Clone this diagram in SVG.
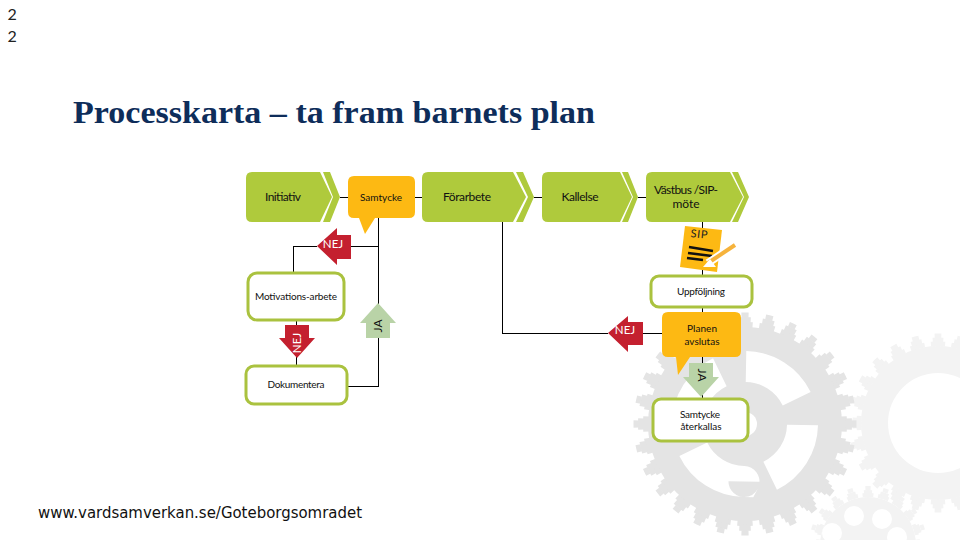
<svg xmlns="http://www.w3.org/2000/svg" width="960" height="540" viewBox="0 0 960 540">
<style>
.lbl{font-family:"Lato","Noto Sans",sans-serif;fill:#111;text-anchor:middle}
.wt{font-family:"Lato","Noto Sans",sans-serif;fill:#fff;text-anchor:middle;font-size:11.5px}
.chev{fill:#afca3c}
.box{fill:#fff;stroke:#aac23f;stroke-width:3}
.bub{fill:#fdb913}
.red{fill:#c4202f}
.ja{fill:#b9d3a7}
.ln{stroke:#000;stroke-width:1;fill:none;shape-rendering:crispEdges}
.g1{fill:#e4e4e4}
.g1s{fill:none;stroke:#e4e4e4}
.g2{fill:#f3f3f3}
.g2s{fill:none;stroke:#f3f3f3}
</style>
<rect width="960" height="540" fill="#fff"/>
<g id="gears">
<circle class="g2s" cx="938" cy="423" r="79" stroke-width="5" pathLength="2400" stroke-dasharray="70 30" stroke-dashoffset="35"/>
<circle class="g2s" cx="938" cy="423" r="83" stroke-width="5" pathLength="2400" stroke-dasharray="50 50" stroke-dashoffset="25"/>
<circle class="g2s" cx="938" cy="423" r="87" stroke-width="5" pathLength="2400" stroke-dasharray="30 70" stroke-dashoffset="15"/>
<circle class="g2" cx="938" cy="423" r="77"/>
<circle cx="938" cy="423" r="50" fill="#fff"/>
<circle class="g2s" cx="868" cy="545" r="50" stroke-width="4" pathLength="2000" stroke-dasharray="70 30" stroke-dashoffset="35"/>
<circle class="g2s" cx="868" cy="545" r="53" stroke-width="4" pathLength="2000" stroke-dasharray="50 50" stroke-dashoffset="25"/>
<circle class="g2s" cx="868" cy="545" r="57" stroke-width="4" pathLength="2000" stroke-dasharray="30 70" stroke-dashoffset="15"/>
<circle class="g2" cx="868" cy="545" r="48"/>
<circle cx="854" cy="516" r="10" fill="#fff"/>
<circle cx="882" cy="519" r="10" fill="#fff"/>
<circle cx="832" cy="533" r="10" fill="#fff"/>
<circle cx="897" cy="537" r="10" fill="#fff"/>
<circle class="g1s" cx="745" cy="424" r="99" stroke-width="6" pathLength="2800" stroke-dasharray="70 30" stroke-dashoffset="35"/>
<circle class="g1s" cx="745" cy="424" r="104" stroke-width="6" pathLength="2800" stroke-dasharray="50 50" stroke-dashoffset="25"/>
<circle class="g1s" cx="745" cy="424" r="109" stroke-width="5" pathLength="2800" stroke-dasharray="30 70" stroke-dashoffset="15"/>
<circle class="g1" cx="745" cy="424" r="97"/>
<circle cx="745" cy="424" r="57.5" fill="none" stroke="#fff" stroke-width="31" pathLength="360" stroke-dasharray="63 27" transform="rotate(-89 745 424)"/>
<circle cx="745" cy="424" r="12" fill="#fff"/>
</g>
<g id="connectors" class="ln">
<path d="M340 197H348M415 197H422M534 197H542M638 197H646"/>
<path d="M378 218V386H347M378 246H351M317 246H293V273M296 320V366"/>
<path d="M502 222V333H608M643 333H662M702 222V399"/>
</g>
<text x="7.5" y="20" font-family="Lato,sans-serif" font-size="16" fill="#222">2</text>
<text x="7.5" y="42" font-family="Lato,sans-serif" font-size="16" fill="#222">2</text>
<text id="title" x="73" y="123" font-family="Liberation Serif,serif" font-weight="bold" font-size="32" fill="#0e2d5a" textLength="522" lengthAdjust="spacingAndGlyphs">Processkarta – ta fram barnets plan</text>
<g id="initiativ">
<path class="chev" d="M252 172H320L332 197L320 222H252Q246 222 246 216V178Q246 172 252 172Z"/>
<path class="chev" d="M323 172H330L340 197L330 222H323L333 197Z"/>
<text class="lbl" x="283" y="201" font-size="12" textLength="36">Initiativ</text>
</g>
<g id="samtycke">
<path class="bub" d="M354 176H409Q415 176 415 182V212Q415 218 409 218H375L365 234L359 218H354Q348 218 348 212V182Q348 176 354 176Z"/>
<text class="lbl" x="381" y="201" font-size="10" textLength="42">Samtycke</text>
</g>
<g id="forarbete">
<path class="chev" d="M428 172H513L526 197L513 222H428Q422 222 422 216V178Q422 172 428 172Z"/>
<path class="chev" d="M516 172H523L534 197L523 222H516L528 197Z"/>
<text class="lbl" x="467" y="201" font-size="12" textLength="48">Förarbete</text>
</g>
<g id="kallelse">
<path class="chev" d="M548 172H620L632 197L620 222H548Q542 222 542 216V178Q542 172 548 172Z"/>
<path class="chev" d="M622 172H628L638 197L628 222H622L633 197Z"/>
<text class="lbl" x="580" y="201" font-size="12" textLength="37">Kallelse</text>
</g>
<g id="vastbus">
<path class="chev" d="M652 172H730L743 197L730 222H652Q646 222 646 216V178Q646 172 652 172Z"/>
<path class="chev" d="M732 172H738L749 197L738 222H732L744 197Z"/>
<text class="lbl" x="686" y="194" font-size="12" textLength="64">Västbus /SIP-</text>
<text class="lbl" x="686" y="208" font-size="12">möte</text>
</g>
<g id="nej-1">
<path class="red" d="M317 246L337 228V235H351V259H337V265Z"/>
<text class="wt" x="333" y="248">NEJ</text>
</g>
<g id="sip">
<path class="bub" d="M685 226L722 230L717 272L680 267Z"/>
<text x="699" y="238" font-family="Lato,sans-serif" font-size="11" fill="#222" text-anchor="middle" textLength="17" transform="rotate(6 700 234)">SIP</text>
<path d="M689 247L713 251M688 253L712 256M687 258L703 260" stroke="#111" stroke-width="2.4" fill="none"/>
<path d="M735 245L708 263" stroke="#fff" stroke-width="8" fill="none"/>
<path d="M735 245L708 263" stroke="#f6b33c" stroke-width="4" fill="none"/>
<path d="M703 267L710 259L716 267Z" fill="#fff"/>
</g>
<g id="motivationsarbete">
<rect class="box" x="248" y="273" width="96" height="47" rx="9"/>
<text class="lbl" x="296" y="300" font-size="10" textLength="82">Motivations-arbete</text>
</g>
<g id="uppfoljning">
<rect class="box" x="651" y="276" width="101" height="31" rx="8"/>
<text class="lbl" x="701" y="295" font-size="10" textLength="48">Uppföljning</text>
</g>
<g id="nej-2">
<path class="red" d="M285 325H309V338H315L297 358L279 338H285Z"/>
<text class="wt" transform="translate(301 343) rotate(-90)">NEJ</text>
</g>
<g id="ja-1">
<path class="ja" d="M378 303L396 323H390V338H366V323H360Z"/>
<text transform="translate(382 326) rotate(-90)" class="lbl" font-size="12">JA</text>
</g>
<g id="dokumentera">
<rect class="box" x="246" y="366" width="101" height="38" rx="8"/>
<text class="lbl" x="296" y="388" font-size="10" textLength="57">Dokumentera</text>
</g>
<g id="nej-3">
<path class="red" d="M608 333L628 316V322H643V345H628V352Z"/>
<text class="wt" x="625" y="334">NEJ</text>
</g>
<g id="ja-2">
<path class="ja" d="M689 363H713V377H719L701 397L683 377H689Z"/>
<text transform="translate(698 375) rotate(90)" class="lbl" font-size="12">JA</text>
</g>
<g id="planen">
<path class="bub" d="M668 312H735Q741 312 741 318V351Q741 357 735 357H690L678 375L676 357H668Q662 357 662 351V318Q662 312 668 312Z"/>
<text class="lbl" x="702" y="332" font-size="10" textLength="30">Planen</text>
<text class="lbl" x="702" y="345" font-size="10" textLength="35">avslutas</text>
</g>
<g id="samtycke-aterkallas">
<rect class="box" x="653" y="399" width="95" height="42" rx="8"/>
<text class="lbl" x="700" y="418" font-size="10" textLength="40">Samtycke</text>
<text class="lbl" x="701" y="430" font-size="10" textLength="41">återkallas</text>
</g>
<text id="url" x="38" y="518" font-family="DejaVu Sans,sans-serif" font-size="15" fill="#111" textLength="324" lengthAdjust="spacingAndGlyphs">www.vardsamverkan.se/Goteborgsomradet</text>
</svg>
